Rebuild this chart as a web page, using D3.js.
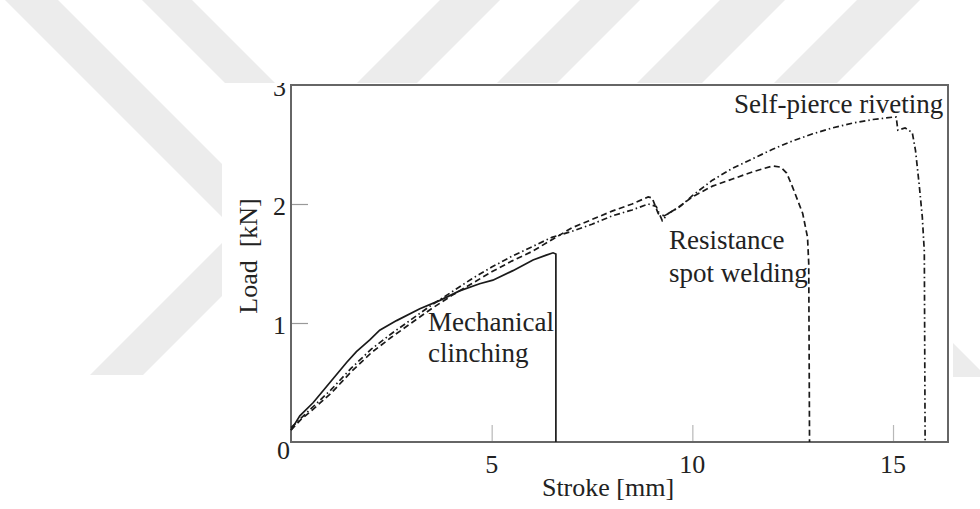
<!DOCTYPE html>
<html><head><meta charset="utf-8">
<script src="https://cdn.jsdelivr.net/npm/d3@7"></script>
<style>html,body{margin:0;padding:0;background:#fff;overflow:hidden;} svg{display:block;}</style>
</head><body>
<svg id="c" width="980" height="509"></svg>
<script>
// ---- data ----
const clinchStroke = [0, 0.22, 0.55, 0.97, 1.39, 1.63, 1.97, 2.21, 2.63, 3.21, 3.71, 4.2, 4.7, 5.03, 5.53, 6.03, 6.36, 6.53, 6.6, 6.6];
const clinchLoad   = [0.1, 0.22, 0.33, 0.5, 0.67, 0.76, 0.86, 0.94, 1.02, 1.12, 1.19, 1.27, 1.33, 1.36, 1.44, 1.53, 1.57, 1.59, 1.58, 0];

const rswStroke = [0, 0.25, 0.5, 1.0, 1.5, 2.0, 2.5, 3.0, 3.5, 4.0, 4.5, 5.0, 5.5, 6.0, 6.5, 7.0, 7.5, 8.0, 8.5, 8.9, 9.0, 9.15, 9.3, 9.6, 10.0, 10.5, 11.0, 11.5, 12.0, 12.2, 12.35, 12.5, 12.75, 12.87, 12.9, 12.92];
const rswLoad   = [0.1, 0.19, 0.26, 0.41, 0.59, 0.75, 0.88, 1.0, 1.12, 1.23, 1.33, 1.43, 1.52, 1.6, 1.7, 1.8, 1.87, 1.94, 2.0, 2.06, 2.05, 1.92, 1.9, 1.96, 2.06, 2.15, 2.21, 2.27, 2.32, 2.31, 2.26, 2.14, 1.92, 1.72, 1.5, 0];

const sprStroke = [0, 0.25, 0.5, 1.0, 1.5, 2.0, 2.5, 3.0, 3.5, 4.0, 4.5, 5.0, 5.5, 6.0, 6.5, 7.0, 7.5, 8.0, 8.5, 8.9, 9.1, 9.25, 9.4, 9.7, 10.0, 10.5, 11.0, 11.5, 12.0, 12.5, 13.0, 13.5, 14.0, 14.5, 15.0, 15.08, 15.12, 15.3, 15.48, 15.56, 15.65, 15.73, 15.78, 15.8];
const sprLoad   = [0.12, 0.2, 0.28, 0.44, 0.62, 0.78, 0.91, 1.03, 1.15, 1.26, 1.37, 1.47, 1.56, 1.64, 1.72, 1.77, 1.83, 1.9, 1.95, 2.0, 1.98, 1.86, 1.92, 1.98, 2.07, 2.2, 2.3, 2.38, 2.46, 2.53, 2.59, 2.64, 2.68, 2.71, 2.73, 2.73, 2.62, 2.64, 2.6, 2.45, 2.17, 1.89, 1.6, 0];

const xTickValues = [5, 10, 15];
const yTickValues = [0, 1, 2, 3];
const xTitle = "Stroke [mm]";
const yTitle = "Load\u00a0\u00a0[kN]";
const curveNames = ["Mechanical", "clinching", "Resistance", "spot welding", "Self-pierce riveting"];

// ---- drawing ----
const svg = d3.select("#c");
const W = 980, H = 509;
const M = {left: 291, right: 948, top: 85, bottom: 442};
const serif = "'Liberation Serif','DejaVu Serif',serif";
const panel = {x: 222, y: 83, w: 731};

// watermark (background decoration)
const wm = svg.append("g").attr("fill", "#ececec");
const polys = [
  [[5,0],[58,0],[300,242],[300,295]],          // "\" band A
  [[142,0],[192,0],[300,108],[300,158]],       // "\" band B
  [[90,375],[143,375],[400,118],[400,65]],     // "/" band C
  [[445,-5],[505,-5],[380,120],[320,120]],     // top "/" bands
  [[585,-5],[645,-5],[520,120],[460,120]],
  [[725,-5],[790,-5],[665,120],[600,120]],
  [[862,-5],[925,-5],[800,120],[737,120]],
  [[900,290],[990,380],[990,377],[900,377]]    // right "\" piece (mostly under panel)
];
wm.selectAll("polygon").data(polys).join("polygon")
  .attr("points", d => d.map(p => p.join(",")).join(" "));

// white panel of the chart picture
svg.append("rect").attr("x", panel.x).attr("y", panel.y).attr("width", panel.w).attr("height", H - panel.y).attr("fill", "#fff");

const clip = svg.append("defs").append("clipPath").attr("id", "pic");
clip.append("rect").attr("x", panel.x).attr("y", panel.y).attr("width", panel.w).attr("height", H - panel.y);
const g = svg.append("g").attr("clip-path", "url(#pic)");

const x = d3.scaleLinear().domain([0, 16.37]).range([M.left, M.right]);
const y = d3.scaleLinear().domain([0, 3]).range([M.bottom, M.top]);

// ticks (inward, light grey)
const xAxis = d3.axisTop(x).tickValues(xTickValues).tickSize(17).tickFormat("");
g.append("g").attr("transform", `translate(0,${M.bottom})`).call(xAxis)
  .call(a => a.select(".domain").remove())
  .call(a => a.selectAll(".tick line").attr("stroke", "#b8b8b8").attr("stroke-width", 1.2));
const yAxis = d3.axisRight(y).tickValues(yTickValues.filter(v => v > 0 && v < 3)).tickSize(17).tickFormat("");
g.append("g").attr("transform", `translate(${M.left},0)`).call(yAxis)
  .call(a => a.select(".domain").remove())
  .call(a => a.selectAll(".tick line").attr("stroke", "#999").attr("stroke-width", 1.2));

// frame
g.append("rect").attr("x", M.left).attr("y", M.top)
  .attr("width", M.right - M.left).attr("height", M.bottom - M.top)
  .attr("fill", "none").attr("stroke", "#666").attr("stroke-width", 2);

// tick labels
g.selectAll(".xl").data(xTickValues).join("text").attr("class", "xl")
  .attr("x", d => x(d)).attr("y", M.bottom + 31)
  .attr("text-anchor", "middle").attr("font-family", serif).attr("font-size", 26).attr("fill", "#222")
  .text(d => d);
g.selectAll(".yl").data(yTickValues).join("text").attr("class", "yl")
  .attr("x", d => d === 0 ? M.left - 1 : M.left - 5)
  .attr("y", d => d === 0 ? y(d) + 17 : y(d) + 11)
  .attr("text-anchor", "end").attr("font-family", serif).attr("font-size", 26).attr("fill", "#222")
  .text(d => d);

// axis titles
g.append("text").attr("x", 608).attr("y", 496).attr("text-anchor", "middle")
  .attr("font-family", serif).attr("font-size", 26).attr("fill", "#222").text(xTitle);
g.append("text").attr("transform", "translate(257,256) rotate(-90)").attr("text-anchor", "middle")
  .attr("font-family", serif).attr("font-size", 26).attr("fill", "#222").text(yTitle);

// curves
const line = d3.line().x(d => x(d[0])).y(d => y(d[1]));
const series = [
  {xs: clinchStroke, ys: clinchLoad, dash: null},
  {xs: rswStroke, ys: rswLoad, dash: "6,3.5"},
  {xs: sprStroke, ys: sprLoad, dash: "6,3,1.5,3"}
];
series.forEach(s => {
  const pts = s.xs.map((v, i) => [v, s.ys[i]]);
  g.append("path").attr("d", line(pts)).attr("fill", "none")
    .attr("stroke", "#1a1a1a").attr("stroke-width", 1.7)
    .attr("stroke-dasharray", s.dash);
});

// curve labels
const lab = (t, xx, yy) => g.append("text").attr("x", xx).attr("y", yy)
  .attr("font-family", serif).attr("font-size", 27).attr("fill", "#222").text(t);
lab(curveNames[0], 428, 331);
lab(curveNames[1], 428, 362);
lab(curveNames[2], 669, 249);
lab(curveNames[3], 669, 282);
lab(curveNames[4], 734, 113);
</script>
</body></html>
